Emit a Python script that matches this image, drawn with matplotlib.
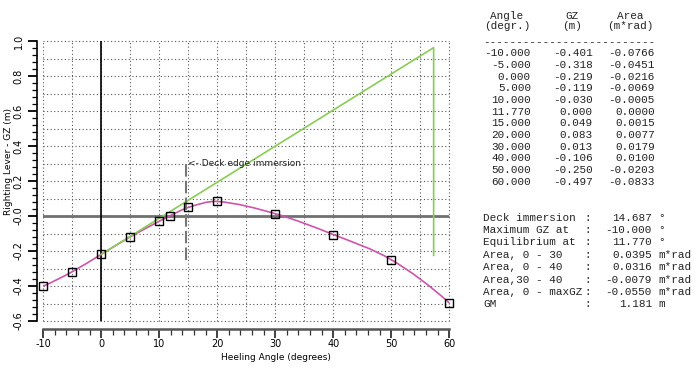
import matplotlib
matplotlib.use('Agg')
import matplotlib.pyplot as plt
import numpy as np
from matplotlib.path import Path
from matplotlib.patches import PathPatch

# stability table
angles = [-10.0, -5.0, 0.0, 5.0, 10.0, 11.77, 15.0, 20.0, 30.0, 40.0, 50.0, 60.0]
gz = [-0.401, -0.318, -0.219, -0.119, -0.030, 0.000, 0.049, 0.083, 0.013, -0.106, -0.250, -0.497]
area = [-0.0766, -0.0451, -0.0216, -0.0069, -0.0005, 0.0000, 0.0015, 0.0077, 0.0179, 0.0100, -0.0203, -0.0833]

# GM triangle (green) and deck edge immersion marker
gm_x = [0.0, 57.3, 57.3]
gm_y = [-0.219, 0.962, -0.225]
deck_angle = 14.687
deck_y = [-0.25, 0.31]

summary_labels = ['Deck immersion', 'Maximum GZ at', 'Equilibrium at', 'Area, 0 - 30',
                  'Area, 0 - 40', 'Area,30 - 40', 'Area, 0 - maxGZ', 'GM']
summary_values = ['14.687', '-10.000', '11.770', '0.0395', '0.0316', '-0.0079', '-0.0550', '1.181']
summary_units = ['\u00b0', '\u00b0', '\u00b0', 'm*rad', 'm*rad', 'm*rad', 'm*rad', 'm']

xtick_vals = [-10, 0, 10, 20, 30, 40, 50, 60]
xtick_labels = ['-10', '0', '10', '20', '30', '40', '50', '60']
ytick_vals = [-0.6, -0.4, -0.2, 0.0, 0.2, 0.4, 0.6, 0.8, 1.0]
ytick_labels = ['-0.6', '-0.4', '-0.2', '-0.0', '0.2', '0.4', '0.6', '0.8', '1.0']

W, H = 700, 370
fig = plt.figure(figsize=(7, 3.7), dpi=100)
ax = fig.add_axes([43.3 / W, 1 - 321 / H, 406 / W, 280 / H])
ax.set_xlim(-10, 60)
ax.set_ylim(-0.6, 1.0)

# dotted grid
for gx in np.arange(-10, 61, 5):
    ax.axvline(gx, color='#555555', lw=0.8, ls=(0, (1, 2.2)), zorder=0, clip_on=False)
for gy in np.arange(-0.6, 1.01, 0.1):
    ax.axhline(gy, color='#555555', lw=0.8, ls=(0, (1, 2.2)), zorder=0, clip_on=False)

ax.axhline(0, color='#707070', lw=2.0, zorder=1)
ax.axvline(0, color='black', lw=1.2, zorder=1)

# smooth GZ curve: cubic Hermite pieces through the table points, drawn as Bezier path
x = np.array(angles)
y = np.array(gz)
m = np.zeros_like(y)
m[1:-1] = (y[2:] - y[:-2]) / (x[2:] - x[:-2])
m[0] = 2 * (y[1] - y[0]) / (x[1] - x[0]) - m[1]
m[-1] = 2 * (y[-1] - y[-2]) / (x[-1] - x[-2]) - m[-2]
verts = [(x[0], y[0])]
codes = [Path.MOVETO]
for i in range(len(x) - 1):
    h = x[i + 1] - x[i]
    verts += [(x[i] + h / 3, y[i] + m[i] * h / 3),
              (x[i + 1] - h / 3, y[i + 1] - m[i + 1] * h / 3),
              (x[i + 1], y[i + 1])]
    codes += [Path.CURVE4] * 3
ax.add_patch(PathPatch(Path(verts, codes), fill=False, edgecolor='#cc55aa', lw=1.2, zorder=2))
ax.plot(angles, gz, ls='none', marker='s', ms=5.2, mfc='none', mec='black', mew=1.0, zorder=4, clip_on=False)

ax.plot(gm_x, gm_y, color='#88cc55', lw=1.2, zorder=3)

ax.plot([deck_angle, deck_angle], deck_y, color='#777777', lw=1.5, ls=(0, (6, 2)), zorder=3)
ax.text(deck_angle + 0.2, 0.30, '<- Deck edge immersion', fontsize=6.5, va='center', ha='left', color='#222222')

# axes styling
for s in ['top', 'right']:
    ax.spines[s].set_visible(False)
ax.spines['left'].set_position(('outward', 4.5))
ax.spines['bottom'].set_position(('outward', 5.8))
ax.spines['left'].set_linewidth(1.2)
ax.spines['bottom'].set_linewidth(1.8)
ax.spines['bottom'].set_color('#555555')

ax.set_xticks(xtick_vals)
ax.set_xticklabels(xtick_labels, fontsize=7)
ax.set_xticks(np.arange(-10, 61, 2), minor=True)
ax.set_yticks(ytick_vals)
ax.set_yticklabels(ytick_labels, fontsize=7, rotation=90, va='center')
ax.set_yticks(np.arange(-0.6, 1.01, 0.04), minor=True)
ax.tick_params(axis='x', which='major', length=6.5, width=1.3, pad=1, color='#333333')
ax.tick_params(axis='x', which='minor', length=4.3, width=0.9, color='#333333')
ax.tick_params(axis='y', which='major', length=6.5, width=1.3, pad=3)
ax.tick_params(axis='y', which='minor', length=3.6, width=0.9)

ax.set_xlabel('Heeling Angle (degrees)', fontsize=6.5)
ax.xaxis.set_label_coords(0.573, -0.115)
ax.set_ylabel('Righting Lever - GZ (m)', fontsize=6.5)
ax.yaxis.set_label_coords(-0.075, 0.57)

# right-hand text block, placed field by field
mono = dict(family=['Liberation Mono', 'DejaVu Sans Mono'], fontsize=7.9, color='#222222', va='center')


def ftext(xp, yp, s, ha='left'):
    fig.text(xp / W, 1 - yp / H, s, ha=ha, **mono)


ftext(507, 16, 'Angle', ha='center')
ftext(507, 26, '(degr.)', ha='center')
ftext(572, 16, 'GZ', ha='center')
ftext(572, 26, '(m)', ha='center')
ftext(630, 16, 'Area', ha='center')
ftext(630, 26, '(m*rad)', ha='center')
ftext(483, 42, '-' * 26)
for i, (a, g, r) in enumerate(zip(angles, gz, area)):
    yp = 53.3 + i * 11.67
    ftext(531, yp, f'{a:.3f}', ha='right')
    ftext(593, yp, f'{g:.3f}', ha='right')
    ftext(655, yp, f'{r:.4f}', ha='right')
for i, (lab, val, unit) in enumerate(zip(summary_labels, summary_values, summary_units)):
    yp = 217.7 + i * 12.37
    ftext(483, yp, lab)
    ftext(584, yp, ':')
    ftext(652, yp, val, ha='right')
    ftext(658, yp, unit)

fig.savefig('out.png', dpi=100, facecolor='white')
